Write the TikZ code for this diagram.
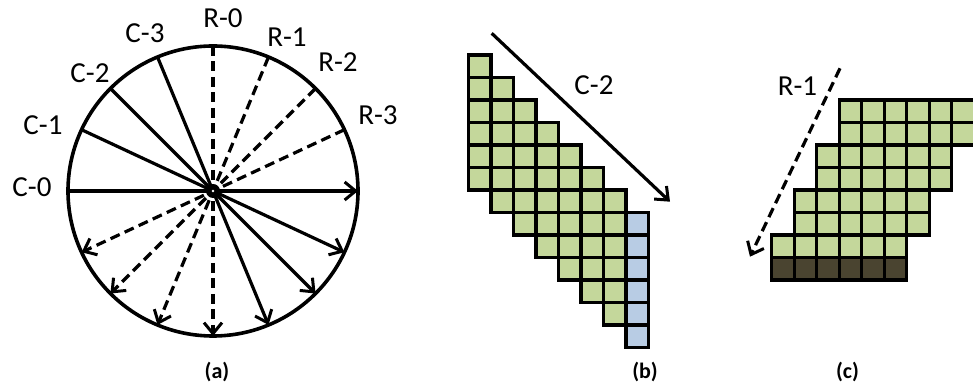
\documentclass[tikz,border=0pt]{standalone}
\usepackage{fontspec}
\setmainfont{Carlito}
\usetikzlibrary{arrows.meta,calc}
\definecolor{cellgreen}{HTML}{C4D79B}
\definecolor{cellblue}{HTML}{B8CCE4}
\definecolor{celldark}{HTML}{4A4430}
\tikzset{
  ray/.style={line width=3.2pt, -{Straight Barb[length=11pt,width=18pt,line width=3pt]}},
  dray/.style={ray, dash pattern=on 10pt off 5.5pt},
  lbl/.style={font=\fontsize{29}{34}\selectfont, inner sep=0pt},
  capt/.style={font=\fontsize{22}{26}\selectfont\bfseries, inner sep=0pt},
  cell/.style={draw=black, line width=3.4pt},
}
\begin{document}
\begin{tikzpicture}[x=1pt,y=1pt]
\clip (0,0) rectangle (973,387);
\fill[white] (0,0) rectangle (973,387);
% ---------- (a) circle ----------
\coordinate (O) at (213,196);
\draw[line width=3.6pt] (O) circle (145);
\foreach \n/\a in {c0/180,c1/155,c2/135,c3/112.5,r0/90,r1/67.5,r2/45,r3/25}{
  \coordinate (s\n) at ($(O)+(\a:145)$);
  \coordinate (e\n) at ($(O)+(\a+180:145)$);
}
\foreach \n in {c0,c1,c2,c3}{ \draw[ray] (s\n) -- (e\n); }
\foreach \n in {r0,r1,r2,r3}{ \draw[dray] (s\n) -- (e\n); }
\fill[black] (O) circle (7);
\fill[white] (O) circle (1.4);
\node[lbl] (lc0) at (32,200) {C-0};
\node[lbl] (lc1) at (43,262) {C-1};
\node[lbl] (lc2) at (90,314) {C-2};
\node[lbl] (lc3) at (145,354) {C-3};
\node[lbl] (lr0) at (223,369) {R-0};
\node[lbl] (lr1) at (287,350) {R-1};
\node[lbl] (lr2) at (338,325) {R-2};
\node[lbl] (lr3) at (378,272) {R-3};
\node[capt] (capa) at (217,15) {(a)};
% ---------- (b) diagonal grid ----------
\foreach \c in {0,...,7}{
  \ifnum\c=7 \def\fc{cellblue}\else\def\fc{cellgreen}\fi
  \foreach \k in {0,...,5}{
    \pgfmathsetmacro{\xx}{468.3+\c*22.5}
    \pgfmathsetmacro{\yy}{332-(\c+\k)*22.5}
    \filldraw[cell, fill=\fc] (\xx,\yy) rectangle ++(22.5,-22.5);
  }
}
\coordinate (bs) at (491.7,353.7);
\coordinate (be) at (670,185.3);
\draw[ray] (bs) -- (be);
\node[lbl] (lbc2) at (594,302) {C-2};
\node[capt] (capb) at (645,15) {(b)};
% ---------- (c) stepped grid ----------
\foreach \r/\s in {0/3,1/3,2/2,3/2,4/1,5/1,6/0}{
  \foreach \k in {0,...,5}{
    \pgfmathsetmacro{\xx}{771.7+(\s+\k)*22.5}
    \pgfmathsetmacro{\yy}{287-\r*22.5}
    \filldraw[cell, fill=cellgreen] (\xx,\yy) rectangle ++(22.5,-22.5);
  }
}
\foreach \k in {0,...,5}{
  \pgfmathsetmacro{\xx}{771.7+\k*22.5}
  \filldraw[cell, fill=celldark] (\xx,129.5) rectangle ++(22.5,-22.5);
}
\coordinate (cs) at (840,318.7);
\coordinate (ce) at (750,130.3);
\draw[dray] (cs) -- (ce);
\node[lbl] (lcr1) at (797.5,301) {R-1};
\node[capt] (capc) at (847.5,15) {(c)};
\end{tikzpicture}
\end{document}
